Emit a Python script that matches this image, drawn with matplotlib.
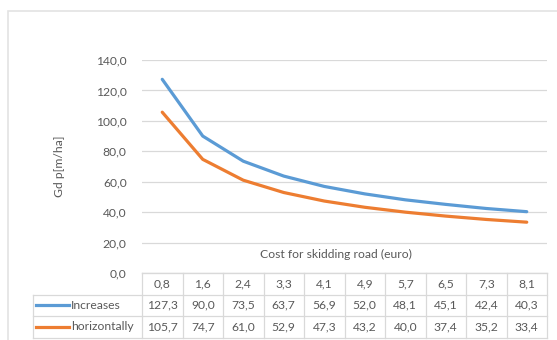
import matplotlib
matplotlib.use("Agg")
import matplotlib.pyplot as plt
from matplotlib.patches import Rectangle
from matplotlib.ticker import FuncFormatter, MultipleLocator

### ---- Data
costs = ["0,8", "1,6", "2,4", "3,3", "4,1", "4,9", "5,7", "6,5", "7,3", "8,1"]
increases = [127.3, 90.0, 73.5, 63.7, 56.9, 52.0, 48.1, 45.1, 42.4, 40.3]
horizontally = [105.7, 74.7, 61.0, 52.9, 47.3, 43.2, 40.0, 37.4, 35.2, 33.4]
series_names = ["Increases", "horizontally"]
series_colors = ["#5B9BD5", "#ED7D31"]

grid_col = "#D9D9D9"
text_col = "#595959"
plt.rcParams["font.family"] = ["Lato", "DejaVu Sans"]

W, H = 557, 340
fig = plt.figure(figsize=(W / 100, H / 100), dpi=100)

# chart area frame
fig.patches.append(Rectangle((8 / W, -0.1), 1.2, 1.1 - 11 / H, transform=fig.transFigure,
                             fill=False, edgecolor="#E3E3E3", linewidth=1.2))

# plot area in pixels: x 142..547, y 60..273 (from top)
L, R, T, B = 142, 547, 60, 273
ax = fig.add_axes([L / W, 1 - B / H, (R - L) / W, (B - T) / H])

x = list(range(len(costs)))
for vals, c in zip([increases, horizontally], series_colors):
    ax.plot(x, vals, color=c, linewidth=2.3, solid_capstyle="round", zorder=3)

ax.set_xlim(-0.5, len(costs) - 0.5)
ax.set_ylim(0, 140)
ax.yaxis.set_major_locator(MultipleLocator(20))
ax.yaxis.set_major_formatter(FuncFormatter(lambda v, p: f"{v:.1f}".replace(".", ",")))
ax.grid(axis="y", color=grid_col, linewidth=0.9)
ax.set_axisbelow(True)
for s in ["top", "right", "left"]:
    ax.spines[s].set_visible(False)
ax.spines["bottom"].set_color(grid_col)
ax.set_xticks([])
ax.tick_params(axis="y", length=0, pad=11, labelsize=8.7, labelcolor=text_col)

ax.set_ylabel("Gd p[m/ha]", fontsize=8.7, color=text_col, labelpad=22)

ax.text(0.479, 0.085, "Cost for skidding road (euro)", transform=ax.transAxes,
        ha="center", va="center", fontsize=8.7, color=text_col)

### ---- Data table below the axis
px = (B - T)  # axes height in pixels
rows_px = [273, 294.5, 316, 337.5]
ry = [-(r - B) / px for r in rows_px]
tr = ax.get_xaxis_transform()
leg_left = -0.5 - (L - 33) / ((R - L) / len(costs))

line_kw = dict(color=grid_col, linewidth=0.9, transform=tr, clip_on=False)
# horizontal rules
ax.plot([-0.5, len(costs) - 0.5], [ry[0], ry[0]], **line_kw)
for yy in ry[1:]:
    ax.plot([leg_left, len(costs) - 0.5], [yy, yy], **line_kw)
# vertical rules
for i in range(len(costs) + 1):
    ax.plot([i - 0.5, i - 0.5], [ry[0], ry[-1]], **line_kw)
ax.plot([leg_left, leg_left], [ry[1], ry[-1]], **line_kw)

cell_kw = dict(transform=tr, ha="center", va="center", fontsize=8.7, color=text_col, clip_on=False)
for i, lab in enumerate(costs):
    ax.text(i, (ry[0] + ry[1]) / 2, lab, **cell_kw)

colw = 1 / ((R - L) / len(costs))  # data units per pixel
for r, (name, vals, c) in enumerate(zip(series_names, [increases, horizontally], series_colors)):
    yc = (ry[r + 1] + ry[r + 2]) / 2
    for i, v in enumerate(vals):
        ax.text(i, yc, f"{v:.1f}".replace(".", ","), **cell_kw)
    ax.plot([leg_left + 3 * colw, leg_left + 36 * colw], [yc, yc], color=c, linewidth=2.3,
            transform=tr, clip_on=False)
    ax.text(leg_left + 38 * colw, yc, name, transform=tr, ha="left", va="center",
            fontsize=8.7, color=text_col, clip_on=False)

fig.savefig("out.png", dpi=100)
